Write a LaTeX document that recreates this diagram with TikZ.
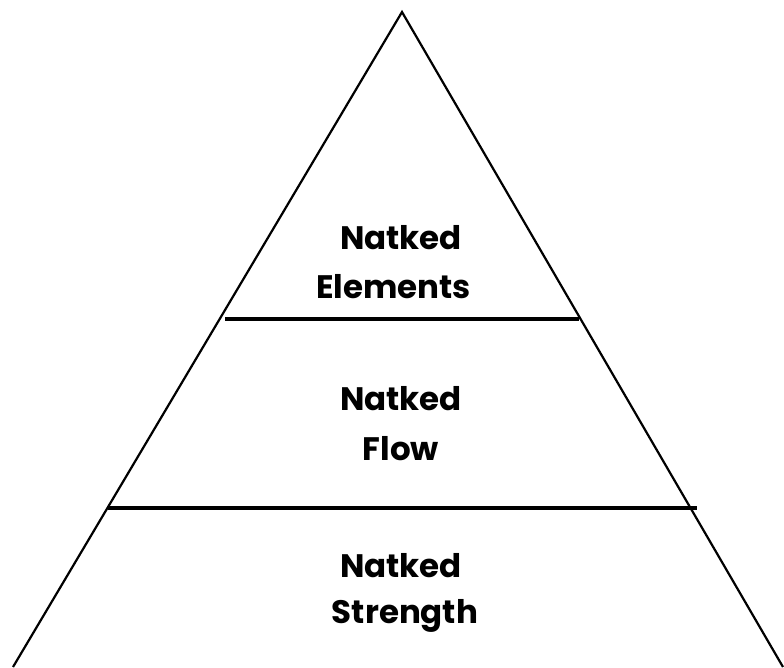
\documentclass[tikz,border=0pt]{standalone}
\usepackage{fontspec}
\setmainfont{Poppins}
\begin{document}
\begin{tikzpicture}[x=1pt,y=-1pt,
  side/.style={line width=2.2pt, line join=miter},
  divider/.style={line width=4.2pt},
  lbl/.style={font=\bfseries\fontsize{32.5}{36}\selectfont, anchor=base, inner sep=0pt, text=black}]
\useasboundingbox (0,0) rectangle (784,667);
\coordinate (apex) at (402,12);
\coordinate (bl) at (13,667);
\coordinate (br) at (783,667);
\draw[side] (bl) -- (apex) -- (br);
\coordinate (d1l) at (225,319);
\coordinate (d1r) at (579,319);
\coordinate (d2l) at (108,508);
\coordinate (d2r) at (697,508);
\draw[divider] (d1l) -- (d1r);
\draw[divider] (d2l) -- (d2r);
\node[lbl] (t1a) at (401,249) {Natked};
\node[lbl] (t1b) at (393.5,298) {Elements};
\node[lbl] (t2a) at (401,410) {Natked};
\node[lbl] (t2b) at (401,460) {Flow};
\node[lbl] (t3a) at (401,577) {Natked};
\node[lbl] (t3b) at (405,623) {Strength};
\end{tikzpicture}
\end{document}
